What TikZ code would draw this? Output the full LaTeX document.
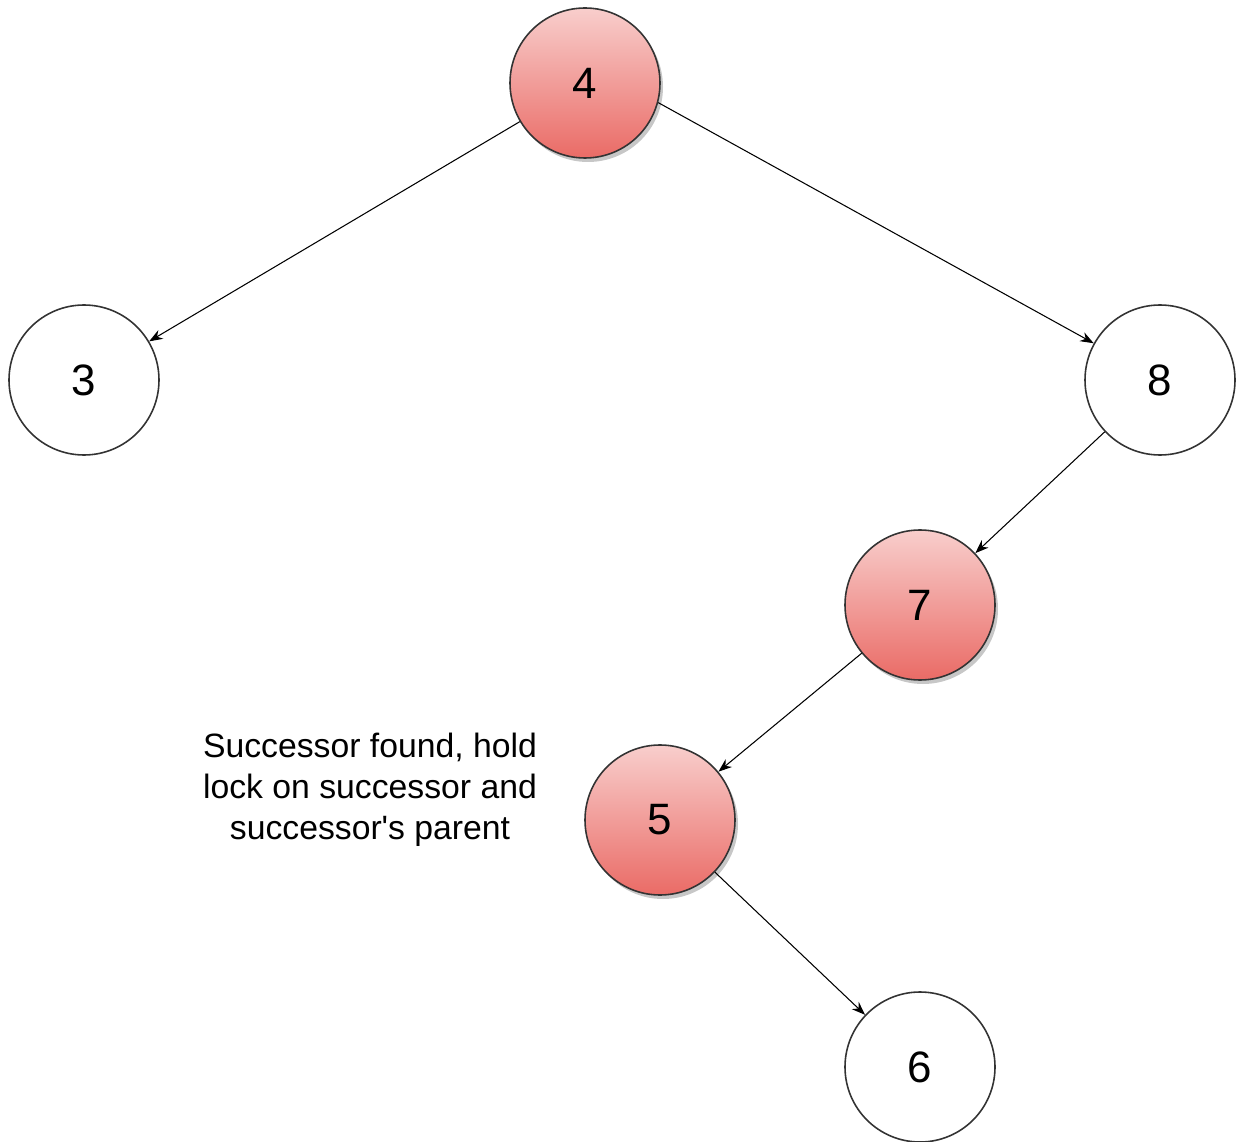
\documentclass[tikz,border=0pt]{standalone}
\usepackage{fontspec}
\setmainfont{Liberation Sans}
\usetikzlibrary{arrows.meta}
\usetikzlibrary{shadows}

\definecolor{locktop}{HTML}{F8CECC}
\definecolor{lockbot}{HTML}{EA6B66}
\definecolor{rimgray}{HTML}{333333}

\tikzset{
  key/.style={circle, draw=rimgray, line width=0.9pt, minimum size=3cm, inner sep=0pt, font=\fontsize{25}{30}\selectfont},
  locked/.style={key, top color=locktop, bottom color=lockbot,
    drop shadow={shadow xshift=0.06cm, shadow yshift=-0.08cm, fill=black!22, opacity=1}},
  link/.style={-{Stealth[length=0.27cm, width=0.2cm]}, line width=0.6pt}
}

\begin{document}
\begin{tikzpicture}
    \useasboundingbox (0,0) rectangle (24.82,-22.84);

    \node[locked] (4) at (11.7,-1.66) {4};
    \node[key] (3) at (1.68,-7.6) {3};
    \node[key] (8) at (23.2,-7.6) {8};
    \node[locked] (7) at (18.4,-12.1) {7};
    \node[locked] (5) at (13.2,-16.4) {5};
    \node[key] (6) at (18.4,-21.34) {6};

    \node[align=center, font=\fontsize{19.2}{23.4}\selectfont] (note) at (7.4,-15.8)
      {Successor found, hold\\lock on successor and\\successor\textquotesingle s parent};

    \draw[link] (4) -- (3);
    \draw[link] (4.345) -- (8.151);
    \draw[link] (8) -- (7);
    \draw[link] (7) -- (5);
    \draw[link] (5) -- (6);
\end{tikzpicture}
\end{document}
